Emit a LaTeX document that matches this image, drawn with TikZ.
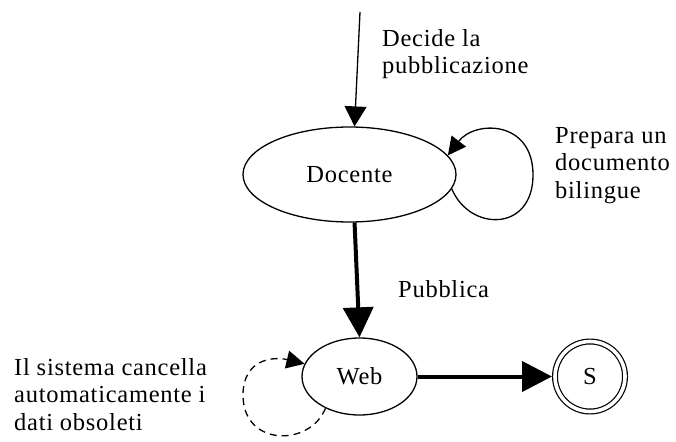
\documentclass[tikz,border=0pt]{standalone}
\usepackage{fontspec}
\setmainfont{Liberation Serif}[LetterSpace=3]
\usetikzlibrary{arrows.meta,shapes.geometric}
\begin{document}
\begin{tikzpicture}[x=1pt,y=-1pt,
  every node/.style={font=\fontsize{24.5}{27.5}\selectfont},
  textlabel/.style={inner sep=0pt, anchor=base west, align=left},
  statenode/.style={draw, line width=1.3pt, ellipse, inner sep=0pt},
  thinarrow/.style={line width=1.3pt, -{Triangle[length=20pt,width=22pt]}},
  thickarrow/.style={line width=4pt, -{Triangle[length=30pt,width=30pt]}},
  selfloop/.style={line width=1.3pt, -{Triangle[length=18pt,width=18pt]}}
]
\useasboundingbox (0,0) rectangle (676,441);

% states
\node[statenode, minimum width=213pt, minimum height=95pt] (docente) at (349.5,174.5) {Docente};
\node[statenode, minimum width=115pt, minimum height=77pt] (web) at (359.5,376.5) {Web};
\node[draw, circle, line width=1.2pt, double, double distance=3.6pt,
      minimum size=70pt, inner sep=0pt, outer sep=3pt] (s) at (590,376.5) {S};

% incoming transition
\coordinate (start) at (360,12);
\draw[thinarrow] (start) -- (docente.84);

% transitions between states
\draw[thickarrow] (docente.-84) -- (web.north);
\draw[thickarrow] (web.east) -- (s.west);

% self loops
\draw[selfloop] (docente.-8) .. controls (470,232) and (533,232) .. (533,175)
  .. controls (533,120) and (475,120) .. (docente.11);
\draw[selfloop, dash pattern=on 7pt off 5pt] (web.-137) .. controls (310,447) and (243,447) .. (243,395)
  .. controls (243,360) and (272,356) .. (web.167);

% labels (anchored on the baseline of their last line)
\node[textlabel] (ldecide) at (382,74) {Decide la\\pubblicazione};
\node[textlabel] (lprepara) at (555,198) {Prepara un\\documento\\bilingue};
\node[textlabel] (lpubblica) at (398,297) {Pubblica};
\node[textlabel] (lsistema) at (14,430) {Il sistema cancella\\automaticamente i\\dati obsoleti};
\end{tikzpicture}
\end{document}
